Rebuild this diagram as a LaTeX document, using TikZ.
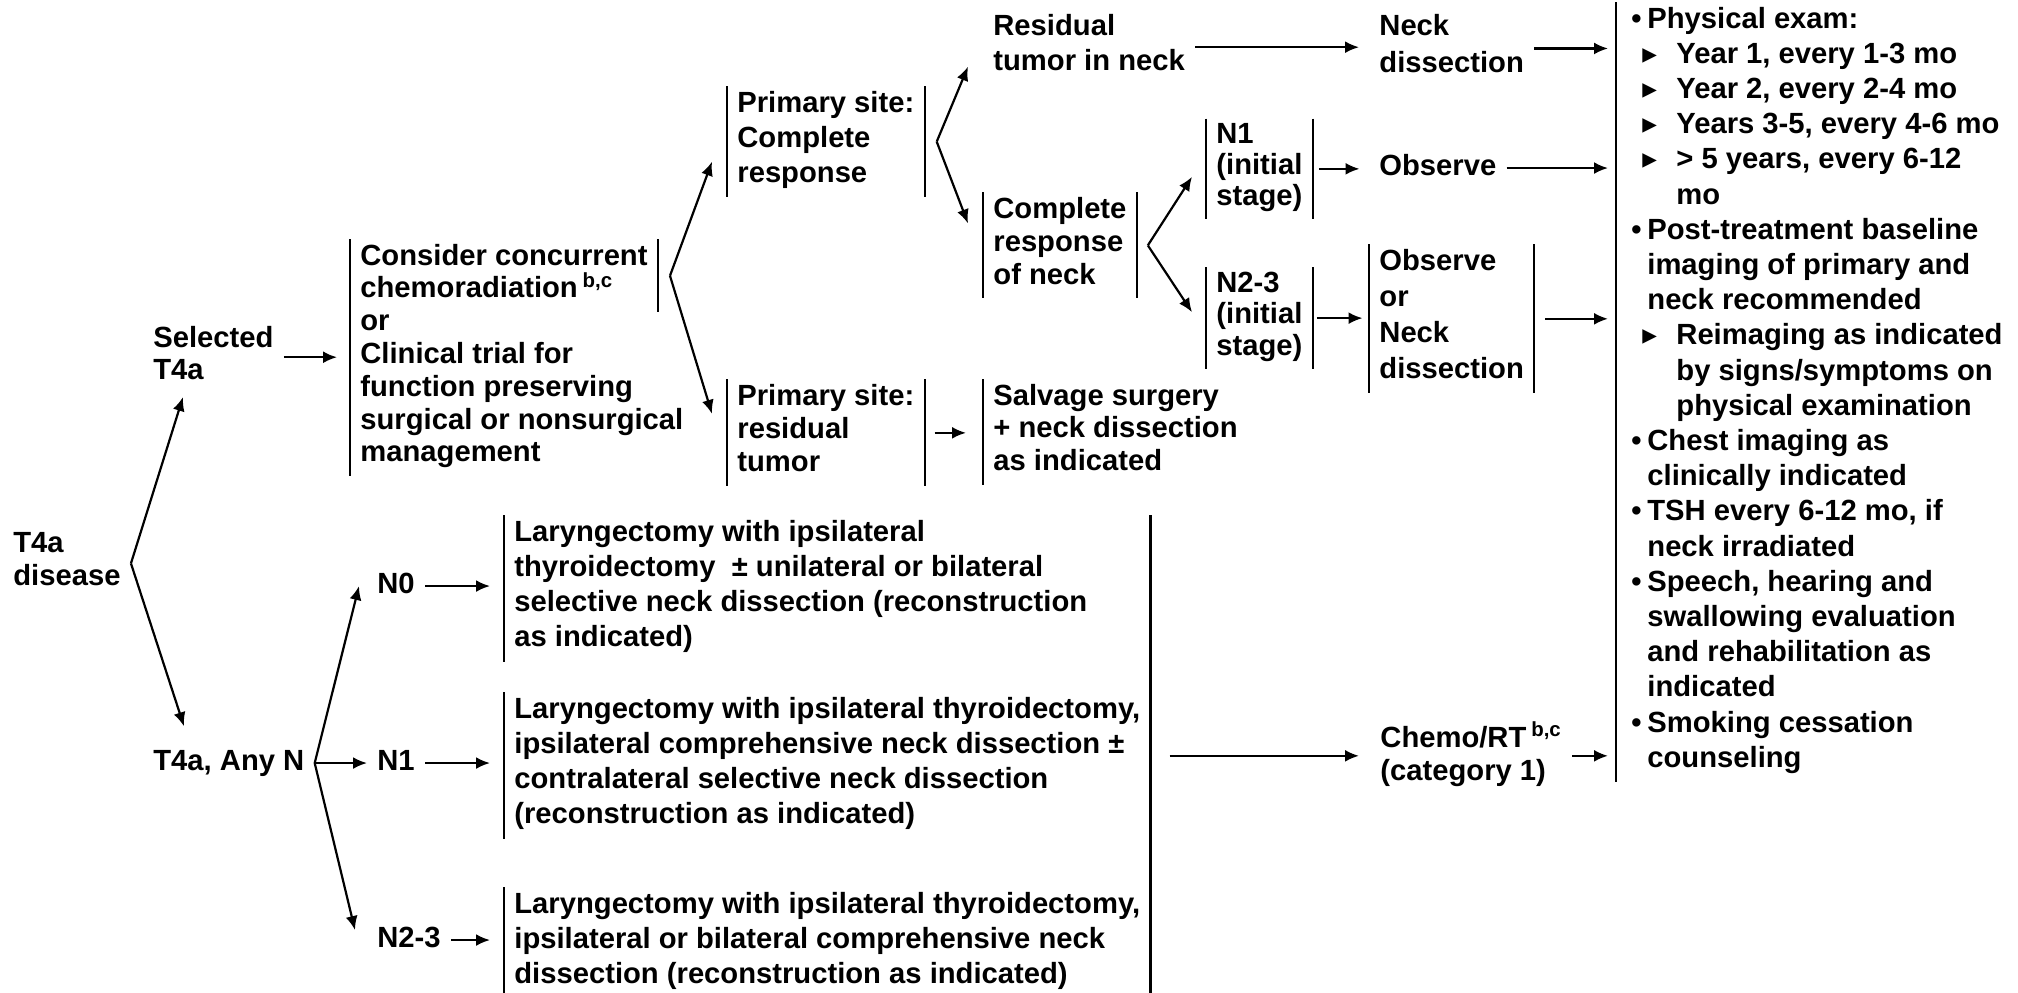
\documentclass[tikz,border=0pt]{standalone}
\usepackage{fontspec}
\setmainfont{Liberation Sans}
\newfontfamily\symf{DejaVu Sans}
\usetikzlibrary{arrows.meta}

% bullets for the follow-up list
\newcommand\bl{\makebox[8pt][l]{\textbullet}}
\newcommand\bi{\hspace*{8pt}}
\newcommand\sbl{\hspace*{5.5pt}\makebox[17pt][l]{{\symf ▸}}}
\newcommand\si{\hspace*{22.5pt}}

\tikzset{
  tx/.style={anchor=base west, align=left, inner xsep=5pt, inner ysep=2pt,
    font=\bfseries\fontsize{14.6}{#1}\selectfont,
    execute at begin node=\strut, execute at end node=\strut},
  tx/.default=17.4pt,
  bar/.style={line width=1.2pt},
  ar/.style={-{Latex[length=7pt,width=6pt]}, line width=1.1pt},
}

\begin{document}
\begin{tikzpicture}[x=0.5pt, y=-0.5pt]
    \useasboundingbox (0,0) rectangle (2018,992);

    % Left column (nodes sit on the baseline of their last line)
    \node[tx=16.5pt] (dis) at (3,585) {T4a\\disease};
    \node[tx=16pt] (sel) at (143,379) {Selected\\T4a};
    \node[tx] (anyn) at (143,770) {T4a, Any N};

    % Selected T4a
    \node[tx=16.4pt] (cons) at (350,297.8) {Consider concurrent\\chemoradiation\,\textsuperscript{b,c}};
    \node[tx=16.4pt] (ctr) at (350,461.8) {or\\Clinical trial for\\function preserving\\surgical or nonsurgical\\management};
    \node[tx=17.5pt] (pcr) at (727,182) {Primary site:\\Complete\\response};
    \node[tx=16.7pt] (prt) at (727,471.8) {Primary site:\\residual\\tumor};
    \node[tx=16.4pt] (salv) at (983,470.6) {Salvage surgery\\+ neck dissection\\as indicated};
    \node[tx=17.5pt] (res) at (983,70) {Residual\\tumor in neck};
    \node[tx=16.5pt] (crn) at (983,284) {Complete\\response\\of neck};
    \node[tx=15.6pt] (n1) at (1206,205.4) {N1\\(initial\\stage)};
    \node[tx=15.8pt] (n23) at (1206,355.2) {N2-3\\(initial\\stage)};
    \node[tx=18.5pt] (nd) at (1369,72) {Neck\\dissection};
    \node[tx] (obs) at (1369,175) {Observe};
    \node[tx=18pt] (obn) at (1369,378) {Observe\\or\\Neck\\dissection};

    % Any N
    \node[tx] (n0) at (367,593) {N0};
    \node[tx] (n1b) at (367,770) {N1};
    \node[tx] (n23b) at (367,947) {N2-3};
    \node[tx=17.6pt] (lar1) at (504,646.6) {Laryngectomy with ipsilateral\\thyroidectomy \ ± unilateral or bilateral\\selective neck dissection (reconstruction\\as indicated)};
    \node[tx=17.6pt] (lar2) at (504,823.6) {Laryngectomy with ipsilateral thyroidectomy,\\ipsilateral comprehensive neck dissection ±\\contralateral selective neck dissection\\(reconstruction as indicated)};
    \node[tx=17.6pt] (lar3) at (504,983.4) {Laryngectomy with ipsilateral thyroidectomy,\\ipsilateral or bilateral comprehensive neck\\dissection (reconstruction as indicated)};
    \node[tx=16.5pt] (chemo) at (1370,780) {Chemo/RT\,\textsuperscript{b,c}\\(category 1)};

    % Follow-up
    \node[tx=17.6pt, inner xsep=7.5pt] (fu) at (1616,767.2) {\bl Physical exam:\\
      \sbl Year 1, every 1-3 mo\\
      \sbl Year 2, every 2-4 mo\\
      \sbl Years 3-5, every 4-6 mo\\
      \sbl > 5 years, every 6-12\\
      \si mo\\
      \bl Post-treatment baseline\\
      \bi imaging of primary and\\
      \bi neck recommended\\
      \sbl Reimaging as indicated\\
      \si by signs/symptoms on\\
      \si physical examination\\
      \bl Chest imaging as\\
      \bi clinically indicated\\
      \bl TSH every 6-12 mo, if\\
      \bi neck irradiated\\
      \bl Speech, hearing and\\
      \bi swallowing evaluation\\
      \bi and rehabilitation as\\
      \bi indicated\\
      \bl Smoking cessation\\
      \bi counseling};

    % Bars
    \draw[bar] (cons.north west) -- (ctr.south west);
    \draw[bar] (cons.north east) -- (cons.south east);
    \draw[bar] (pcr.north west) -- (pcr.south west);
    \draw[bar] (pcr.north east) -- (pcr.south east);
    \draw[bar] (prt.north west) -- (prt.south west);
    \draw[bar] (prt.north east) -- (prt.south east);
    \draw[bar] (salv.north west) -- (salv.south west);
    \draw[bar] (crn.north west) -- (crn.south west);
    \draw[bar] (crn.north east) -- (crn.south east);
    \draw[bar] (n1.north west) -- (n1.south west);
    \draw[bar] (n1.north east) -- (n1.south east);
    \draw[bar] (n23.north west) -- (n23.south west);
    \draw[bar] (n23.north east) -- (n23.south east);
    \draw[bar] (obn.north west) -- (obn.south west);
    \draw[bar] (obn.north east) -- (obn.south east);
    \draw[bar] (lar1.north west) -- (lar1.south west);
    \draw[bar] (lar2.north west) -- (lar2.south west);
    \draw[bar] (lar3.north west) -- (lar3.south west);
    \draw[bar] (lar1.north -| lar2.east) -- (lar3.south -| lar2.east);
    \draw[bar] (fu.north west) -- (fu.south west);

    % Arrows
    \draw[ar] (dis.east) -- ([xshift=20pt,yshift=-2pt]sel.south west);
    \draw[ar] (dis.east) -- ([xshift=20.5pt,yshift=7.5pt]anyn.north west);
    \draw[ar, shorten >=6.5pt] (sel.east) -- (sel.east -| ctr.west);
    \draw[ar] ([xshift=6pt]cons.east) -- ([xshift=-7.5pt,yshift=-10pt]pcr.west);
    \draw[ar] ([xshift=6pt]cons.east) -- ([xshift=-7.5pt,yshift=9.5pt]prt.west);
    \draw[ar] ([xshift=6pt]pcr.east) -- ([xshift=-7.5pt,yshift=-9.75pt]res.west);
    \draw[ar] ([xshift=6pt]pcr.east) -- ([xshift=-7.5pt,yshift=11pt]crn.west);
    \draw[ar, shorten <=5pt, shorten >=8.5pt] (prt.east) -- (prt.east -| salv.west);
    \draw[ar, shorten >=5pt] (res.east) -- (res.east -| nd.west);
    \draw[ar, shorten >=4pt] (nd.east) -- (nd.east -| fu.west);
    \draw[ar] ([xshift=5.5pt]crn.east) -- ([xshift=-7pt,yshift=-4pt]n1.west);
    \draw[ar] ([xshift=5.5pt]crn.east) -- ([xshift=-7pt,yshift=3pt]n23.west);
    \draw[ar, shorten <=3pt, shorten >=4.75pt] (n1.east) -- (n1.east -| obs.west);
    \draw[ar, shorten >=4pt] (obs.east) -- (obs.east -| fu.west);
    \draw[ar, shorten <=2pt, shorten >=3.25pt] (n23.east) -- (n23.east -| obn.west);
    \draw[ar, shorten <=5.5pt, shorten >=4pt] (obn.east) -- (obn.east -| fu.west);
    \draw[ar] (anyn.east) -- ([xshift=-4pt]n0.west);
    \draw[ar] (anyn.east) -- (n1b.west);
    \draw[ar] (anyn.east) -- ([xshift=-6pt,yshift=5pt]n23b.west);
    \draw[ar, shorten >=7pt] (n0.east) -- (n0.east -| lar1.west);
    \draw[ar, shorten >=7pt] (n1b.east) -- (n1b.east -| lar2.west);
    \draw[ar, shorten >=7pt] (n23b.east) -- (n23b.east -| lar3.west);
    \draw[ar, shorten <=9.5pt, shorten >=5.5pt] (chemo.west -| lar2.east) -- (chemo.west);
    \draw[ar, shorten >=4pt] (chemo.east) -- (chemo.east -| fu.west);
\end{tikzpicture}
\end{document}
